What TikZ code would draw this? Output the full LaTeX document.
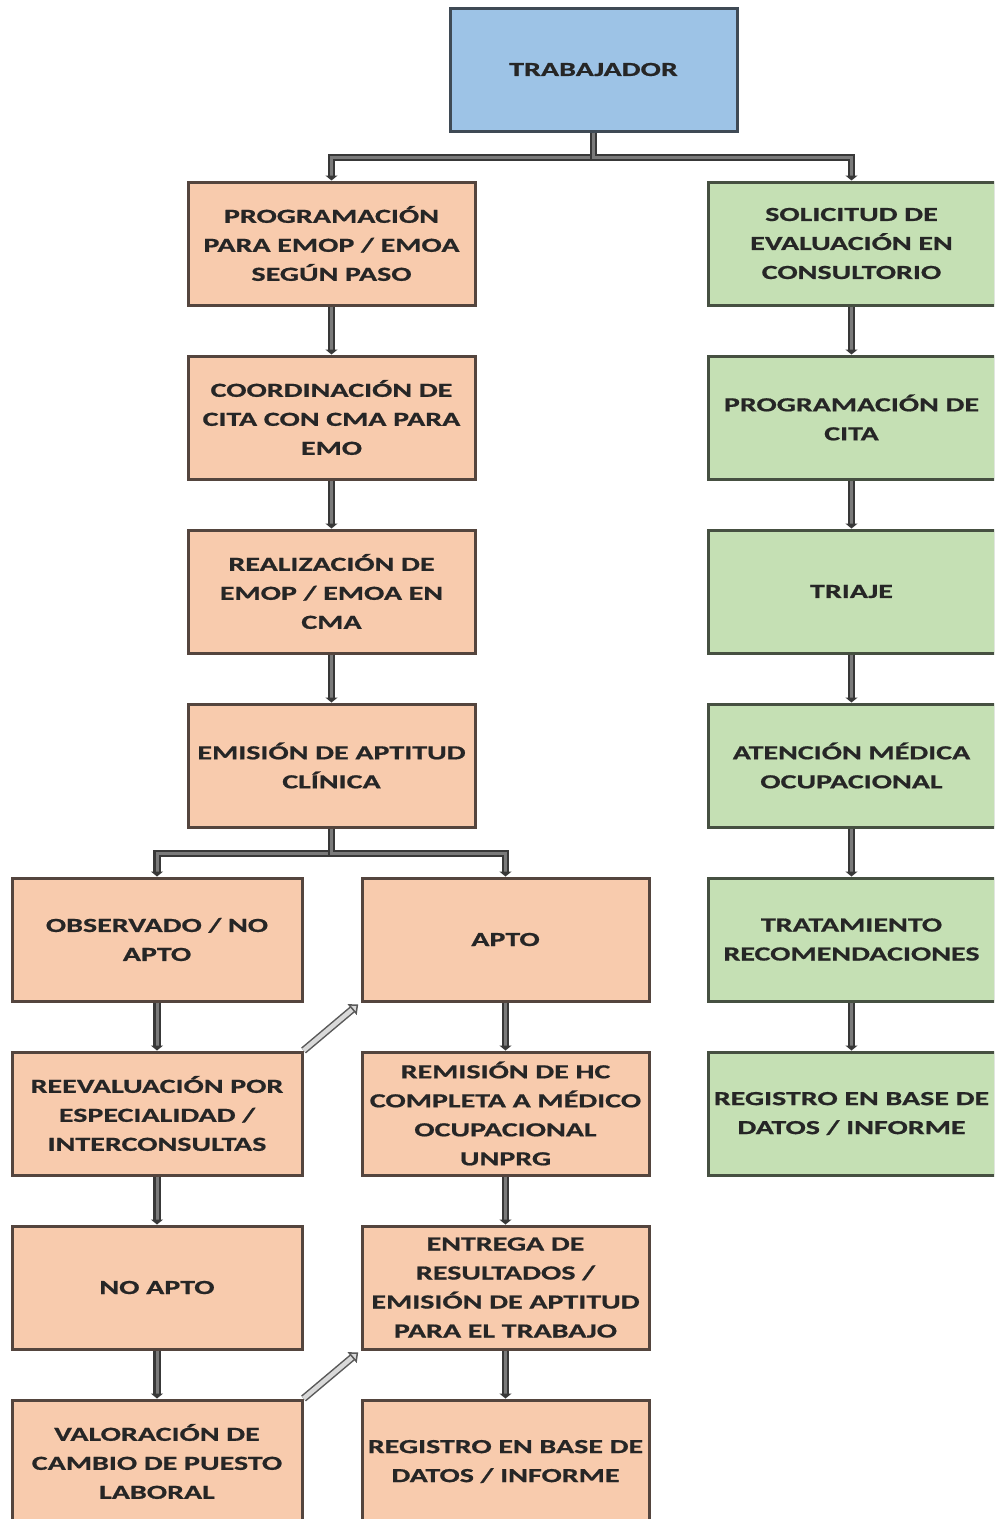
\documentclass[tikz,border=0pt]{standalone}
\usepackage{fontspec}
\newfontfamily\boxfont{Carlito}[FakeStretch=1.5,FakeBold=0.8]
\usetikzlibrary{arrows.meta}
\definecolor{bluefill}{HTML}{9DC3E6}
\definecolor{blueline}{HTML}{3F4A55}
\definecolor{pinkfill}{HTML}{F8CBAD}
\definecolor{pinkline}{HTML}{54453E}
\definecolor{greenfill}{HTML}{C5E0B4}
\definecolor{greenline}{HTML}{465041}
\definecolor{connout}{HTML}{383838}
\definecolor{connin}{HTML}{7A7A7A}
\definecolor{txt}{HTML}{262626}
\tikzset{
  box/.style={rectangle, line width=3pt, minimum width=287pt, minimum height=123pt,
    inner sep=0pt, align=center, text width=287pt, text=txt,
    font=\boxfont\bfseries\fontsize{20}{29}\selectfont},
  bluebox/.style={box, fill=bluefill, draw=blueline},
  pinkbox/.style={box, fill=pinkfill, draw=pinkline},
  greenbox/.style={box, fill=greenfill, draw=greenline},
  widebox/.style={minimum width=290pt, text width=290pt},
  conn/.style={draw=connout, line width=2.3pt, double=connin, double distance=3pt,
    line join=miter, -{Triangle[width=12pt,length=5pt]}},
  hollow/.style={draw=gray!70!black, line width=1.5pt, double=gray!30, double distance=4.5pt,
    -{Triangle[open,width=14pt,length=8pt,fill=gray!30]}}
}
\begin{document}
\begin{tikzpicture}[x=1pt,y=-1pt]
\useasboundingbox (0,0) rectangle (994,1519);
\clip (0,0) rectangle (994,1519);
\fill[white] (0,0) rectangle (994,1519);
% top
\node[bluebox] (trab) at (593.5,69.5) {TRABAJADOR};
% left column
\node[pinkbox] (prog) at (331.5,243.5) {PROGRAMACIÓN\\PARA EMOP / EMOA\\SEGÚN PASO};
\node[pinkbox] (coord) at (331.5,417.5) {COORDINACIÓN DE\\CITA CON CMA PARA\\EMO};
\node[pinkbox] (real) at (331.5,591.5) {REALIZACIÓN DE\\EMOP / EMOA EN\\CMA};
\node[pinkbox] (emis) at (331.5,765.5) {EMISIÓN DE APTITUD\\CLÍNICA};
% right column
\node[greenbox] (sol) at (851.5,243.5) {SOLICITUD DE\\EVALUACIÓN EN\\CONSULTORIO};
\node[greenbox] (progcita) at (851.5,417.5) {PROGRAMACIÓN DE\\CITA};
\node[greenbox] (triaje) at (851.5,591.5) {TRIAJE};
\node[greenbox] (atenc) at (851.5,765.5) {ATENCIÓN MÉDICA\\OCUPACIONAL};
\node[greenbox] (trat) at (851.5,939.5) {TRATAMIENTO\\RECOMENDACIONES};
\node[greenbox] (regr) at (851.5,1113.5) {REGISTRO EN BASE DE\\DATOS / INFORME};
% lower left
\node[pinkbox,widebox] (obs) at (157,939.5) {OBSERVADO / NO\\APTO};
\node[pinkbox,widebox] (reev) at (157,1113.5) {REEVALUACIÓN POR\\ESPECIALIDAD /\\INTERCONSULTAS};
\node[pinkbox,widebox] (noapto) at (157,1287.5) {NO APTO};
\node[pinkbox,widebox] (valor) at (157,1461.5) {VALORACIÓN DE\\CAMBIO DE PUESTO\\LABORAL};
% lower right
\node[pinkbox] (apto) at (505.5,939.5) {APTO};
\node[pinkbox] (remis) at (505.5,1113.5) {REMISIÓN DE HC\\COMPLETA A MÉDICO\\OCUPACIONAL\\UNPRG};
\node[pinkbox] (entr) at (505.5,1287.5) {ENTREGA DE\\RESULTADOS /\\EMISIÓN DE APTITUD\\PARA EL TRABAJO};
\node[pinkbox] (regl) at (505.5,1461.5) {REGISTRO EN BASE DE\\DATOS / INFORME};
% connectors
\draw[conn] (trab.south) -- ++(0,25) -| (prog.north);
\draw[conn] (trab.south) -- ++(0,25) -| (sol.north);
\draw[conn] (prog) -- (coord);
\draw[conn] (coord) -- (real);
\draw[conn] (real) -- (emis);
\draw[conn] (emis.south) -- ++(0,25) -| (obs.north);
\draw[conn] (emis.south) -- ++(0,25) -| (apto.north);
\draw[conn] (sol) -- (progcita);
\draw[conn] (progcita) -- (triaje);
\draw[conn] (triaje) -- (atenc);
\draw[conn] (atenc) -- (trat);
\draw[conn] (trat) -- (regr);
\draw[conn] (obs) -- (reev);
\draw[conn] (reev) -- (noapto);
\draw[conn] (noapto) -- (valor);
\draw[conn] (apto) -- (remis);
\draw[conn] (remis) -- (entr);
\draw[conn] (entr) -- (regl);
\draw[hollow, shorten >=3pt] (reev.north east) -- (apto.south west);
\draw[hollow, shorten >=3pt] (valor.north east) -- (entr.south west);
\end{tikzpicture}
\end{document}
